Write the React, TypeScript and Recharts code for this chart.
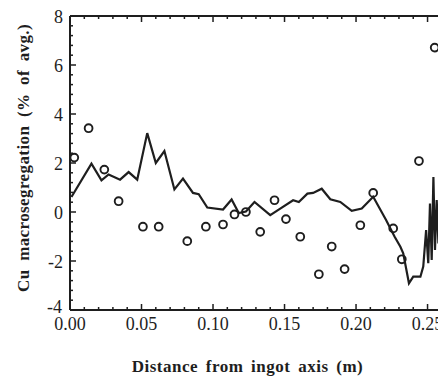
import React from "react";
import { ComposedChart, Line, Scatter, XAxis, YAxis } from "recharts";

// simulated profile (solid line)
const lineX = [
  0.001, 0.015, 0.022, 0.027, 0.035, 0.041, 0.047, 0.054, 0.06, 0.066, 0.073, 0.079, 0.086, 0.09,
  0.096, 0.107, 0.113, 0.118, 0.123, 0.129, 0.14, 0.147, 0.156, 0.16, 0.166, 0.17, 0.176, 0.182,
  0.189, 0.197, 0.204, 0.212, 0.221, 0.227, 0.231, 0.233, 0.237, 0.24, 0.245, 0.247, 0.249, 0.2505,
  0.2517, 0.2529, 0.2541, 0.2552, 0.2564, 0.2576, 0.2587, 0.2592, 0.2622, 0.266,
];
const lineY = [
  0.61, 1.97, 1.29, 1.53, 1.32, 1.63, 1.32, 3.22, 2.0, 2.49, 0.92, 1.36, 0.78, 0.73,
  0.18, 0.1, 0.51, -0.04, 0.02, 0.41, -0.13, 0.14, 0.48, 0.41, 0.75, 0.78, 0.95, 0.52,
  0.41, 0.05, 0.14, 0.62, -0.33, -1.01, -1.42, -1.69, -2.91, -2.64, -2.64, -2.23, -0.74, -2.09,
  0.35, -1.96, 1.43, -1.55, 0.49, -1.28, 0.76, 0.08, 1.3, 1.8,
];

// measured values (open circles)
const measX = [
  0.003, 0.013, 0.024, 0.034, 0.051, 0.062, 0.082, 0.095, 0.107, 0.115, 0.123, 0.133,
  0.143, 0.151, 0.161, 0.174, 0.183, 0.192, 0.203, 0.212, 0.226, 0.232, 0.244, 0.255,
];
const measY = [
  2.22, 3.42, 1.73, 0.44, -0.6, -0.6, -1.19, -0.6, -0.51, -0.1, 0.0, -0.81,
  0.48, -0.29, -1.01, -2.54, -1.41, -2.33, -0.54, 0.78, -0.67, -1.93, 2.08, 6.71,
];

const xTicks = [
  0, 0.01, 0.02, 0.03, 0.04, 0.05, 0.06, 0.07, 0.08, 0.09, 0.1, 0.11, 0.12, 0.13,
  0.14, 0.15, 0.16, 0.17, 0.18, 0.19, 0.2, 0.21, 0.22, 0.23, 0.24, 0.25, 0.26,
];
const xLabels = ["0.00", "0.05", "0.10", "0.15", "0.20", "0.25"];
const yTicks = [
  -4, -3.6, -3.2, -2.8, -2.4, -2, -1.6, -1.2, -0.8, -0.4, 0, 0.4, 0.8, 1.2, 1.6, 2,
  2.4, 2.8, 3.2, 3.6, 4, 4.4, 4.8, 5.2, 5.6, 6, 6.4, 6.8, 7.2, 7.6, 8,
];
const yLabels = ["-4", "-2", "0", "2", "4", "6", "8"];

const lineData = lineX.map((x, i) => ({ x, y: lineY[i] }));
const measData = measX.map((x, i) => ({ x, y: measY[i] }));

const INK = "#1e1e1e";
const serif = { fontFamily: "Liberation Serif" };

const xMajor = (v: number) => Math.abs(v / 0.05 - Math.round(v / 0.05)) < 1e-6;
const yMajor = (v: number) => Math.abs(v / 2 - Math.round(v / 2)) < 1e-6;
const xLabelOf = (v: number) => xLabels[Math.round(v / 0.05)];
const yLabelOf = (v: number) => yLabels[Math.round((v + 4) / 2)];

const BottomTick = ({ x, y, payload }: any) => {
  const major = xMajor(payload.value);
  return (
    <g>
      <line x1={x} x2={x} y1={y} y2={y - (major ? 6 : 3)} stroke={INK} strokeWidth={1.5} />
      {major && (
        <text x={x} y={y + 20} textAnchor="middle" fontSize={18} style={serif} fill={INK}>
          {xLabelOf(payload.value)}
        </text>
      )}
    </g>
  );
};

const TopTick = ({ x, y, payload }: any) => (
  <line x1={x} x2={x} y1={y} y2={y + (xMajor(payload.value) ? 6 : 3)} stroke={INK} strokeWidth={1.5} />
);

const LeftTick = ({ x, y, payload }: any) => {
  const major = yMajor(payload.value);
  const v = payload.value;
  return (
    <g>
      <line x1={x} x2={x + (major ? 6 : 3)} y1={y} y2={y} stroke={INK} strokeWidth={1.5} />
      {major && (
        <text x={v === -4 ? x - 8 : x - 7} y={y + (v === -4 ? 3 : 7)} textAnchor="end" fontSize={18} style={serif} fill={INK}>
          {yLabelOf(v)}
        </text>
      )}
    </g>
  );
};

const RightTick = ({ x, y, payload }: any) => (
  <line x1={x} x2={x - (yMajor(payload.value) ? 6 : 3)} y1={y} y2={y} stroke={INK} strokeWidth={1.5} />
);

const Ring = ({ cx, cy }: any) => (
  <circle cx={cx} cy={cy} r={3.9} fill="none" stroke={INK} strokeWidth={1.9} />
);

export default function App() {
  return (
    <div style={{ width: 438, height: 370, overflow: "hidden", background: "#fff" }}>
      <ComposedChart width={460} height={370} margin={{ top: 7, right: 18, left: 0, bottom: 0 }}>
        <XAxis
          dataKey="x"
          type="number"
          domain={[0, 0.265]}
          ticks={xTicks}
          interval={0}
          allowDataOverflow
          height={68}
          tickSize={0}
          tickMargin={0}
          tickLine={false}
          tick={<BottomTick />}
          axisLine={{ stroke: INK, strokeWidth: 2 }}
          label={{
            content: ({ viewBox }: any) => (
              <text
                x={viewBox.x + viewBox.width / 2 - 12}
                y={viewBox.y + 62}
                textAnchor="middle"
                fontSize={17}
                fontWeight="bold"
                style={{ ...serif, letterSpacing: 0.5, wordSpacing: 3 }}
                fill={INK}
              >
                Distance from ingot axis (m)
              </text>
            ),
          }}
        />
        <XAxis
          xAxisId="top"
          orientation="top"
          dataKey="x"
          type="number"
          domain={[0, 0.265]}
          ticks={xTicks}
          interval={0}
          allowDataOverflow
          height={1}
          tickSize={0}
          tickMargin={0}
          tickLine={false}
          tick={<TopTick />}
          axisLine={{ stroke: INK, strokeWidth: 2 }}
        />
        <YAxis
          type="number"
          domain={[-4, 8]}
          ticks={yTicks}
          interval={0}
          width={62}
          tickSize={0}
          tickMargin={0}
          tickLine={false}
          tick={<LeftTick />}
          axisLine={{ stroke: INK, strokeWidth: 2 }}
          label={{
            content: ({ viewBox }: any) => {
              const cx = 15;
              const cy = viewBox.y + viewBox.height / 2 - 5;
              return (
                <text
                  x={cx}
                  y={cy}
                  transform={`rotate(-90 ${cx} ${cy})`}
                  textAnchor="middle"
                  dominantBaseline="central"
                  fontSize={17}
                  fontWeight="bold"
                  style={{ ...serif, letterSpacing: 0.4, wordSpacing: 4 }}
                  fill={INK}
                >
                  Cu macrosegregation (% of avg.)
                </text>
              );
            },
          }}
        />
        <YAxis
          yAxisId="right"
          orientation="right"
          type="number"
          domain={[-4, 8]}
          ticks={yTicks}
          interval={0}
          width={1}
          tickSize={0}
          tickMargin={0}
          tickLine={false}
          tick={<RightTick />}
          axisLine={{ stroke: INK, strokeWidth: 2 }}
        />
        <Line
          data={lineData}
          dataKey="y"
          type="linear"
          stroke={INK}
          strokeWidth={2.2}
          dot={false}
          isAnimationActive={false}
        />
        <Scatter data={measData} dataKey="y" shape={<Ring />} isAnimationActive={false} />
      </ComposedChart>
    </div>
  );
}
